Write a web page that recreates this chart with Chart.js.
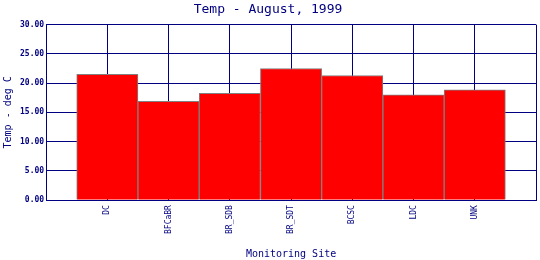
<!DOCTYPE html>
<html>
<head>
<meta charset="utf-8">
<script src="https://cdn.jsdelivr.net/npm/chart.js@4"></script>
<style>
  html, body { margin: 0; padding: 0; background: #fff; }
  #wrap { width: 540px; height: 260px; }
</style>
</head>
<body>
<div id="wrap"><canvas id="tempChart" width="540" height="260"></canvas></div>
<script>
// ===== 데이터 =====
const sites = ['DC', 'BFCaBR', 'BR_SDB', 'BR_SDT', 'BCSC', 'LDC', 'UNK'];
const temps = [21.5, 16.9, 18.25, 22.5, 21.3, 18.0, 18.85];
const yTicks = [0, 5, 10, 15, 20, 25, 30];

const NAVY = '#000080';
const MONO = "'DejaVu Sans Mono', 'Liberation Mono', monospace";

// 양 끝에 빈 칸 하나씩 (원본처럼 한 칸 여백)
const labels = [''].concat(sites, ['']);
const values = [null].concat(temps, [null]);

const ctx = document.getElementById('tempChart');

new Chart(ctx, {
  type: 'bar',
  data: {
    labels: labels,
    datasets: [{
      data: values,
      backgroundColor: '#ff0000',
      borderColor: '#808080',
      borderWidth: 1,
      barPercentage: 1,
      categoryPercentage: 1
    }]
  },
  options: {
    responsive: false,
    animation: false,
    layout: { padding: { left: 0, right: 4, top: 0, bottom: 0 } },
    plugins: {
      legend: { display: false },
      tooltip: { enabled: false },
      title: {
        display: true,
        text: 'Temp - August, 1999',
        color: NAVY,
        font: { family: MONO, size: 13, weight: 'normal' },
        padding: { top: 2, bottom: 7 }
      }
    },
    scales: {
      x: {
        offset: false,
        afterFit: function(s) {
          s.paddingLeft = 0;
          s.paddingRight = 0;
        },
        grid: { color: NAVY, lineWidth: 1, drawTicks: false, offset: false },
        border: { color: NAVY, width: 1 },
        ticks: {
          autoSkip: false,
          maxRotation: 90,
          minRotation: 90,
          padding: 5,
          color: NAVY,
          font: { family: MONO, size: 8 }
        },
        title: {
          display: true,
          text: 'Monitoring Site',
          color: NAVY,
          font: { family: MONO, size: 10 },
          padding: { top: 9, bottom: 0 }
        }
      },
      y: {
        min: 0,
        max: 30,
        afterBuildTicks: function(axis) {
          axis.ticks = yTicks.map(v => ({ value: v }));
        },
        grid: { color: NAVY, lineWidth: 1, drawTicks: false },
        border: { color: NAVY, width: 1 },
        ticks: {
          padding: 2,
          color: NAVY,
          font: { family: MONO, size: 8, weight: 'bold' },
          callback: v => Number(v).toFixed(2)
        },
        title: {
          display: true,
          text: 'Temp - deg C',
          color: NAVY,
          font: { family: MONO, size: 10 },
          padding: { top: 2, bottom: 4 }
        }
      }
    }
  }
});
</script>
</body>
</html>
